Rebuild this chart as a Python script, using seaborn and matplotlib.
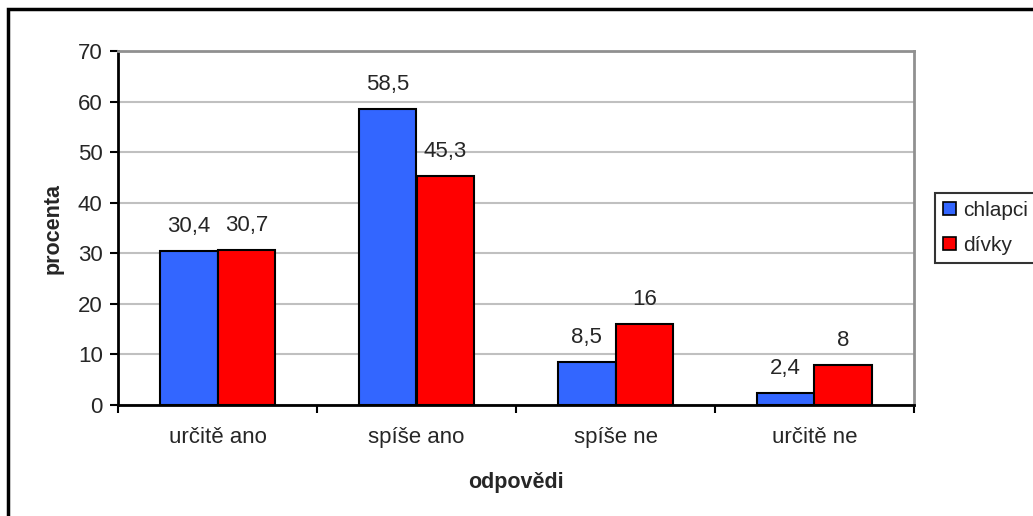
import pandas as pd
import matplotlib.pyplot as plt
import seaborn as sns
from matplotlib.patches import Rectangle

# data
odpovedi = ["určitě ano", "spíše ano", "spíše ne", "určitě ne"]
chlapci = [30.4, 58.5, 8.5, 2.4]
divky = [30.7, 45.3, 16, 8]
skupiny = ["chlapci", "dívky"]
barvy = ["#3366FF", "#FF0000"]

df = pd.DataFrame({
    "odpovedi": odpovedi * 2,
    "procenta": chlapci + divky,
    "skupina": [skupiny[0]] * len(chlapci) + [skupiny[1]] * len(divky),
})

sns.set_style("white")
plt.rcParams['font.family'] = ['Liberation Sans', 'DejaVu Sans']

fig = plt.figure(figsize=(10.33, 5.16), dpi=100)
ax = fig.add_axes([118 / 1033, 1 - 405 / 516, (914 - 118) / 1033, (405 - 51) / 516])

sns.barplot(data=df, x="odpovedi", y="procenta", hue="skupina", palette=barvy, saturation=1,
            width=0.58, gap=0, edgecolor="black", linewidth=1.5, ax=ax, legend=False)

# value labels above bars, comma decimal
for cont in ax.containers:
    ax.bar_label(cont, labels=[f"{v.get_height():g}".replace(".", ",") for v in cont],
                 padding=10, fontsize=16)

ax.set_ylim(0, 70)
ax.set_yticks(range(0, 71, 10))
ax.set_xlim(-0.5, 3.5)
ax.yaxis.grid(True, color="#c0c0c0", linewidth=1.5)
ax.set_axisbelow(True)

# category ticks sit between groups
ax.set_xticks([-0.5, 0.5, 1.5, 2.5, 3.5], minor=True)
ax.tick_params(axis="x", which="major", length=0, pad=16, labelsize=16)
ax.tick_params(axis="x", which="minor", length=6, width=1.5, color="black", direction="out", bottom=True)
ax.tick_params(axis="y", length=6, width=1.5, color="black", direction="out", left=True, labelsize=16, pad=5)

for s in ["left", "bottom"]:
    ax.spines[s].set_color("black")
    ax.spines[s].set_linewidth(2)
for s in ["top", "right"]:
    ax.spines[s].set_color("#909090")
    ax.spines[s].set_linewidth(2)

ax.set_xlabel("odpovědi", fontsize=15.5, fontweight="bold", labelpad=17)
ax.set_ylabel("procenta", fontsize=15.5, fontweight="bold", labelpad=10)

# legend on the right
handles = [Rectangle((0, 0), 1, 1, facecolor=c, edgecolor="black", linewidth=1.2) for c in barvy]
leg = fig.legend(handles, skupiny, loc="lower left", bbox_to_anchor=(935 / 1033, 1 - 263 / 516),
                 fontsize=15, frameon=True, fancybox=False, handlelength=0.6, handleheight=0.6,
                 handletextpad=0.35, borderpad=0.4, labelspacing=0.75, borderaxespad=0)
leg.get_frame().set_edgecolor("black")
leg.get_frame().set_linewidth(1.5)

# outer chart frame
fig.add_artist(Rectangle((8 / 1033, -0.1), 1.2, 0.1 + 1 - 9 / 516, fill=False,
                         edgecolor="black", linewidth=2.5, transform=fig.transFigure, clip_on=False))

plt.savefig("out.png", dpi=100)
